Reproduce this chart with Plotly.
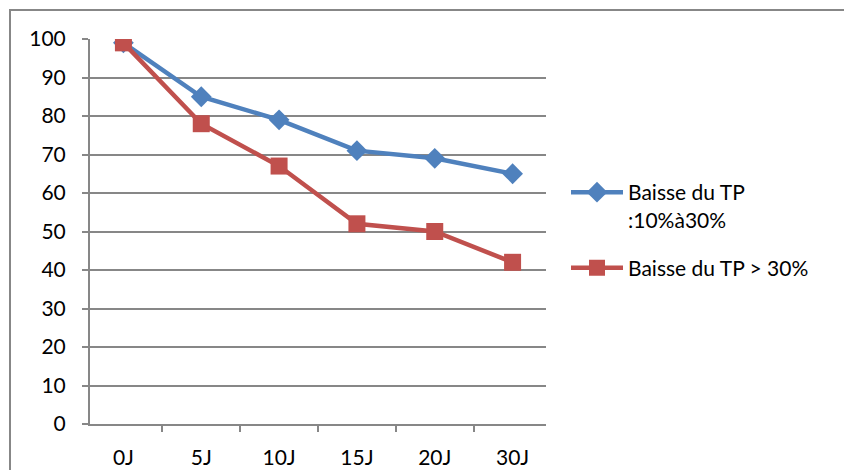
import plotly.graph_objects as go

# Évolution du TP selon le jour
jours = ["0J", "5J", "10J", "15J", "20J", "30J"]
baisse_10_30 = [99, 85, 79, 71, 69, 65]
baisse_sup_30 = [99, 78, 67, 52, 50, 42]
noms = ["Baisse du TP<br>:10%à30%", "Baisse du TP > 30%"]
y_ticks = list(range(0, 101, 10))

BLUE = "#4F81BD"
RED = "#C0504D"
GRID = "#878787"
FONT = "Lato"

fig = go.Figure()
fig.add_trace(go.Scatter(
    x=jours, y=baisse_10_30, name=noms[0], mode="lines+markers",
    line=dict(color=BLUE, width=4.5),
    marker=dict(symbol="diamond", size=16, color=BLUE),
    legendgroup="a",
))
fig.add_trace(go.Scatter(
    x=jours, y=baisse_sup_30, name=noms[1], mode="lines+markers",
    line=dict(color=RED, width=4.5),
    marker=dict(symbol="square", size=17, color=RED),
    legendgroup="b",
))

W, H = 844, 470
L, R, T, B = 90, 546, 39, 424
pw, ph = R - L, B - T

def px_x(x):
    return (x - L) / pw

def px_y(y):
    return (B - y) / ph

fig.update_layout(
    width=W, height=H,
    margin=dict(l=L, r=W - R, t=T, b=H - B),
    paper_bgcolor="white", plot_bgcolor="white",
    font=dict(family=FONT, size=21, color="black"),
    showlegend=True,
    legend=dict(
        x=px_x(566), y=px_y(172), xanchor="left", yanchor="top",
        valign="top", itemwidth=52, tracegroupgap=18,
        font=dict(family=FONT, size=21, color="black"),
        bgcolor="rgba(0,0,0,0)",
    ),
    xaxis=dict(
        type="category", tickson="boundaries", ticks="outside", ticklen=6,
        tickwidth=2, tickcolor=GRID, showline=True, linecolor=GRID, linewidth=2,
        showgrid=False, ticklabelstandoff=14, fixedrange=True, automargin=False,
    ),
    yaxis=dict(
        range=[0, 100], tickvals=y_ticks, ticks="outside", ticklen=6,
        tickwidth=2, tickcolor=GRID, showline=True, linecolor=GRID, linewidth=2,
        showgrid=True, gridcolor=GRID, gridwidth=2, zeroline=False,
        ticklabelstandoff=12, fixedrange=True, automargin=False,
    ),
    shapes=[dict(
        type="rect", xref="paper", yref="paper",
        x0=px_x(10), x1=px_x(860), y0=px_y(10), y1=px_y(490),
        line=dict(color=GRID, width=2), fillcolor="rgba(0,0,0,0)", layer="below",
    )],
)

fig.write_html("out.html")
